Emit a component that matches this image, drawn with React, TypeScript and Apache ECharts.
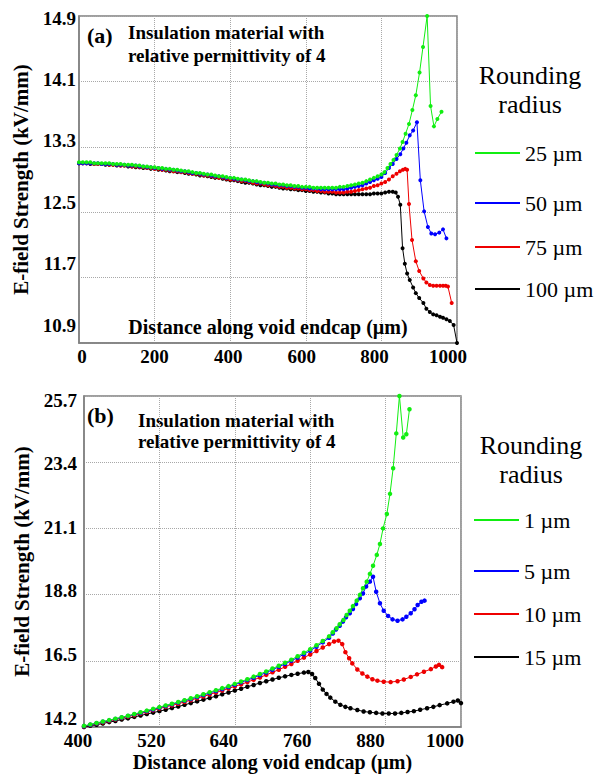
import React, { useEffect, useRef } from 'react';
import * as echarts from 'echarts';

const FONT = 'Liberation Serif';

// ---------- (a) top chart ----------
const topNames = ['25 µm', '50 µm', '75 µm', '100 µm'];
const topXTicks = [0, 200, 400, 600, 800, 1000];
const topYTicks = [10.9, 11.7, 12.5, 13.3, 14.1, 14.9];

const topBaseX = [
  0, 10, 20, 30, 40, 50, 60, 70, 80, 90,
  100, 110, 120, 130, 140, 150, 160, 170, 180, 190,
  200, 210, 220, 230, 240, 250, 260, 270, 280, 290,
  300, 310, 320, 330, 340, 350, 360, 370, 380, 390,
  400, 410, 420, 430, 440, 450, 460, 470, 480, 490,
  500, 510, 520, 530, 540, 550, 560, 570, 580, 590,
  600, 610, 620, 630, 640, 650, 660, 670, 680, 690,
  700, 710, 720, 730, 740, 750, 760, 770, 780, 790,
  800,
];

const top25Base = [
  13.11, 13.11, 13.11, 13.11, 13.10, 13.10, 13.10, 13.10, 13.10, 13.09,
  13.09, 13.09, 13.08, 13.08, 13.08, 13.07, 13.07, 13.06, 13.06, 13.05,
  13.05, 13.04, 13.04, 13.03, 13.03, 13.02, 13.02, 13.01, 13.00, 13.00,
  12.99, 12.98, 12.98, 12.97, 12.96, 12.96, 12.95, 12.94, 12.94, 12.93,
  12.92, 12.92, 12.91, 12.90, 12.90, 12.89, 12.88, 12.88, 12.87, 12.86,
  12.86, 12.85, 12.85, 12.84, 12.84, 12.83, 12.83, 12.82, 12.82, 12.81,
  12.81, 12.81, 12.80, 12.80, 12.80, 12.80, 12.80, 12.80, 12.80, 12.81,
  12.81, 12.82, 12.83, 12.84, 12.85, 12.86, 12.88, 12.90, 12.92, 12.94,
  12.96,
];
const top25TailX = [808, 816, 824, 832, 840, 849, 856, 864, 873, 882, 891, 901, 910, 921, 930, 939, 948, 959];
const top25TailY = [12.99, 13.04, 13.09, 13.14, 13.20, 13.28, 13.36, 13.46, 13.58, 13.75, 13.93, 14.21, 14.52, 14.90, 13.80, 13.55, 13.64, 13.73];

const top50Base = [
  13.10, 13.10, 13.10, 13.10, 13.10, 13.10, 13.09, 13.09, 13.09, 13.09,
  13.08, 13.08, 13.08, 13.07, 13.07, 13.07, 13.06, 13.06, 13.05, 13.05,
  13.04, 13.04, 13.03, 13.03, 13.02, 13.02, 13.01, 13.00, 13.00, 12.99,
  12.98, 12.98, 12.97, 12.96, 12.96, 12.95, 12.94, 12.94, 12.93, 12.92,
  12.92, 12.91, 12.90, 12.90, 12.89, 12.88, 12.88, 12.87, 12.86, 12.86,
  12.85, 12.84, 12.84, 12.83, 12.83, 12.82, 12.82, 12.81, 12.81, 12.80,
  12.80, 12.79, 12.79, 12.79, 12.78, 12.78, 12.78, 12.78, 12.78, 12.78,
  12.78, 12.79, 12.80, 12.81, 12.82, 12.83, 12.85, 12.87, 12.89, 12.91,
  12.93,
];
const top50TailX = [810, 820, 830, 840, 850, 858, 866, 875, 884, 894, 903, 913, 923, 932, 942, 953, 963, 972];
const top50TailY = [12.98, 13.04, 13.09, 13.15, 13.21, 13.28, 13.35, 13.44, 13.50, 13.60, 12.89, 12.51, 12.32, 12.24, 12.23, 12.25, 12.29, 12.18];

const top75Base = [
  13.10, 13.10, 13.10, 13.10, 13.09, 13.09, 13.09, 13.09, 13.08, 13.08,
  13.08, 13.07, 13.07, 13.07, 13.06, 13.06, 13.05, 13.05, 13.04, 13.04,
  13.03, 13.03, 13.02, 13.02, 13.01, 13.00, 13.00, 12.99, 12.99, 12.98,
  12.97, 12.97, 12.96, 12.95, 12.95, 12.94, 12.93, 12.92, 12.92, 12.91,
  12.90, 12.90, 12.89, 12.88, 12.88, 12.87, 12.86, 12.85, 12.85, 12.84,
  12.83, 12.83, 12.82, 12.81, 12.81, 12.80, 12.80, 12.79, 12.79, 12.78,
  12.78, 12.77, 12.77, 12.76, 12.76, 12.75, 12.75, 12.75, 12.74, 12.74,
  12.74, 12.75, 12.75, 12.76, 12.77, 12.78, 12.79, 12.80, 12.82, 12.83,
  12.85,
];
const top75TailX = [810, 820, 830, 840, 849, 857, 863, 868, 873, 881, 891, 900, 911, 919, 928, 937, 946, 955, 963, 970, 976, 986];
const top75TailY = [12.87, 12.90, 12.94, 12.97, 13.00, 13.02, 13.03, 13.02, 12.60, 12.16, 11.90, 11.78, 11.69, 11.64, 11.61, 11.60, 11.60, 11.60, 11.60, 11.60, 11.59, 11.39];

const top100Base = [
  13.10, 13.10, 13.10, 13.09, 13.09, 13.09, 13.09, 13.08, 13.08, 13.08,
  13.07, 13.07, 13.07, 13.06, 13.06, 13.05, 13.05, 13.04, 13.04, 13.03,
  13.03, 13.02, 13.02, 13.01, 13.00, 13.00, 12.99, 12.99, 12.98, 12.97,
  12.97, 12.96, 12.95, 12.95, 12.94, 12.93, 12.92, 12.92, 12.91, 12.90,
  12.89, 12.89, 12.88, 12.87, 12.86, 12.86, 12.85, 12.84, 12.83, 12.83,
  12.82, 12.81, 12.81, 12.80, 12.79, 12.79, 12.78, 12.78, 12.77, 12.77,
  12.76, 12.76, 12.75, 12.75, 12.74, 12.74, 12.73, 12.73, 12.72, 12.72,
  12.72, 12.72, 12.72, 12.72, 12.72, 12.72, 12.72, 12.72, 12.73, 12.73,
  12.73,
];
const top100TailX = [810, 820, 830, 838, 844, 850, 856, 862, 868, 875, 884, 891, 900, 911, 919, 928, 937, 946, 955, 963, 972, 981, 991, 1000];
const top100TailY = [12.74, 12.75, 12.75, 12.74, 12.69, 12.59, 12.06, 11.87, 11.75, 11.67, 11.58, 11.51, 11.45, 11.39, 11.32, 11.28, 11.25, 11.24, 11.22, 11.21, 11.19, 11.17, 11.12, 10.90];

// ---------- (b) bottom chart ----------
const botNames = ['1 µm', '5 µm', '10 µm', '15 µm'];
const botXTicks = [400, 520, 640, 760, 880, 1000];
const botYTicks = [14.2, 16.5, 18.8, 21.1, 23.4, 25.7];

const botBaseX = [
  400, 410, 420, 430, 440, 450, 460, 470, 480, 490,
  500, 510, 520, 530, 540, 550, 560, 570, 580, 590,
  600, 610, 620, 630, 640, 650, 660, 670, 680, 690,
  700, 710, 720, 730, 740, 750, 760, 770, 780, 790,
];

const bot1Base = [
  14.24, 14.29, 14.34, 14.39, 14.44, 14.49, 14.54, 14.59, 14.65, 14.71,
  14.77, 14.83, 14.89, 14.95, 15.01, 15.07, 15.13, 15.20, 15.27, 15.34,
  15.41, 15.48, 15.55, 15.62, 15.70, 15.78, 15.86, 15.95, 16.04, 16.13,
  16.23, 16.33, 16.43, 16.54, 16.66, 16.78, 16.90, 17.04, 17.19, 17.35,
];
const bot1TailX = [796, 802, 807, 813, 818, 823, 828, 834, 839, 844, 850, 855, 860, 866, 871, 876, 882, 887, 892, 897, 902, 908, 913, 918];
const bot1TailY = [17.49, 17.63, 17.77, 17.92, 18.09, 18.24, 18.40, 18.59, 18.79, 19.02, 19.25, 19.52, 19.80, 20.18, 20.56, 21.10, 21.60, 22.30, 23.19, 24.40, 25.70, 24.26, 24.37, 25.24];

const bot5Base = [
  14.23, 14.28, 14.33, 14.38, 14.43, 14.48, 14.53, 14.58, 14.64, 14.69,
  14.75, 14.81, 14.87, 14.93, 14.99, 15.05, 15.11, 15.17, 15.24, 15.31,
  15.38, 15.45, 15.52, 15.59, 15.67, 15.75, 15.83, 15.91, 16.00, 16.09,
  16.19, 16.29, 16.39, 16.50, 16.61, 16.73, 16.85, 16.99, 17.14, 17.30,
];
const bot5TailX = [796, 801, 807, 812, 817, 823, 828, 833, 839, 844, 849, 855, 860, 865, 871, 877, 884, 891, 899, 907, 913, 920, 926, 931, 937, 942];
const bot5TailY = [17.45, 17.59, 17.72, 17.86, 18.01, 18.15, 18.30, 18.47, 18.67, 18.84, 19.08, 19.25, 19.42, 18.90, 18.50, 18.24, 18.06, 17.94, 17.89, 17.94, 18.03, 18.15, 18.29, 18.44, 18.55, 18.59];

const bot10Base = [
  14.22, 14.27, 14.32, 14.36, 14.41, 14.46, 14.51, 14.56, 14.61, 14.67,
  14.72, 14.78, 14.84, 14.90, 14.95, 15.01, 15.07, 15.13, 15.20, 15.26,
  15.33, 15.40, 15.47, 15.54, 15.61, 15.68, 15.76, 15.84, 15.92, 16.01,
  16.10, 16.19, 16.29, 16.39, 16.50, 16.61, 16.72, 16.84, 16.96, 17.08,
];
const bot10TailX = [798, 805, 811, 816, 822, 827, 835, 843, 851, 859, 867, 877, 888, 899, 909, 920, 930, 941, 952, 960, 965, 970];
const bot10TailY = [17.17, 17.20, 17.08, 16.80, 16.59, 16.41, 16.20, 16.06, 15.95, 15.86, 15.81, 15.77, 15.76, 15.79, 15.85, 15.94, 16.03, 16.12, 16.21, 16.30, 16.36, 16.28];

const bot15BaseX = [
  400, 410, 420, 430, 440, 450, 460, 470, 480, 490,
  500, 510, 520, 530, 540, 550, 560, 570, 580, 590,
  600, 610, 620, 630, 640, 650, 660, 670, 680, 690,
  700, 710, 720, 730, 740, 750,
];
const bot15Base = [
  14.20, 14.24, 14.28, 14.32, 14.37, 14.41, 14.46, 14.50, 14.55, 14.60,
  14.65, 14.70, 14.75, 14.80, 14.86, 14.91, 14.97, 15.03, 15.09, 15.15,
  15.21, 15.27, 15.34, 15.40, 15.47, 15.53, 15.60, 15.66, 15.73, 15.79,
  15.85, 15.91, 15.96, 16.01, 16.05, 16.09,
];
const bot15TailX = [757, 763, 768, 774, 780, 786, 792, 800, 808, 816, 824, 835, 845, 855, 865, 875, 885, 895, 905, 915, 925, 935, 946, 956, 966, 978, 988, 995, 1000];
const bot15TailY = [16.11, 16.04, 15.90, 15.70, 15.50, 15.35, 15.22, 15.08, 14.97, 14.90, 14.85, 14.79, 14.74, 14.71, 14.69, 14.67, 14.67, 14.67, 14.69, 14.72, 14.75, 14.80, 14.85, 14.90, 14.96, 15.02, 15.08, 15.12, 15.03];

const COLORS = ['#11ee11', '#0000ff', '#ee0000', '#000000'];

function pairs(xs: number[], ys: number[]): number[][] {
  return xs.map((x, i) => [x, ys[i]]);
}

// pixel offsets of tick labels as they sit in the figure (x: +right, y: +down)
const topXLabelShift = [3, 0, -2, -4, -7, -9];
const botXLabelShift = [-6, -8, -11, -13, -15, -16];
const topYLabelShift = [-18, -14, -10, -6, -2, 2];
const botYLabelShift = [-9, -6, -4, -1, 1, 4];

const tickFont = { fontFamily: FONT, fontSize: 19, fontWeight: 'bold' as const, color: '#000' };

function shiftedLabels(ticks: number[], shifts: number[], horizontal: boolean, digits: number) {
  const rich: Record<string, any> = {};
  shifts.forEach((s, i) => {
    let padding: number[];
    if (horizontal) padding = s >= 0 ? [0, 0, 0, 2 * s] : [0, -2 * s, 0, 0];
    else padding = s >= 0 ? [2 * s, 0, 0, 0] : [0, 0, -2 * s, 0];
    rich['t' + i] = { ...tickFont, padding };
  });
  return {
    formatter: (v: number) => {
      const i = ticks.findIndex((t) => Math.abs(t - v) < 1e-6);
      const s = v.toFixed(digits);
      return i >= 0 ? `{t${i}|${s}}` : s;
    },
    rich,
  };
}

function buildOption() {
  const axisLine = { show: true, lineStyle: { color: '#808080', width: 1.5 } };
  const split = { show: true, lineStyle: { color: '#a8a8a8', type: 'dotted' as const, width: 1 } };
  const yName = 'E-field Strength (kV/mm)';
  const yNameStyle = { fontFamily: FONT, fontSize: 21, fontWeight: 'bold' as const, color: '#000' };
  const xNameStyle = { fontFamily: FONT, fontSize: 20, fontWeight: 'bold' as const, color: '#000' };

  const topSeriesData = [
    pairs(topBaseX.concat(top25TailX), top25Base.concat(top25TailY)),
    pairs(topBaseX.concat(top50TailX), top50Base.concat(top50TailY)),
    pairs(topBaseX.concat(top75TailX), top75Base.concat(top75TailY)),
    pairs(topBaseX.concat(top100TailX), top100Base.concat(top100TailY)),
  ];
  const botSeriesData = [
    pairs(botBaseX.concat(bot1TailX), bot1Base.concat(bot1TailY)),
    pairs(botBaseX.concat(bot5TailX), bot5Base.concat(bot5TailY)),
    pairs(botBaseX.concat(bot10TailX), bot10Base.concat(bot10TailY)),
    pairs(bot15BaseX.concat(bot15TailX), bot15Base.concat(bot15TailY)),
  ];

  const series: any[] = [];
  for (let k = 3; k >= 0; k--) {
    series.push({
      name: topNames[k], type: 'line', xAxisIndex: 0, yAxisIndex: 0,
      data: topSeriesData[k], symbol: 'circle', symbolSize: 4,
      lineStyle: { width: 1, color: COLORS[k] }, itemStyle: { color: COLORS[k] },
      emphasis: { disabled: true }, z: 10 - k,
    });
  }
  for (let k = 3; k >= 0; k--) {
    series.push({
      name: botNames[k], type: 'line', xAxisIndex: 1, yAxisIndex: 1,
      data: botSeriesData[k], symbol: 'circle', symbolSize: 4.5,
      lineStyle: { width: 1, color: COLORS[k] }, itemStyle: { color: COLORS[k] },
      emphasis: { disabled: true }, z: 10 - k,
    });
  }

  const topLegendY = [153, 203, 247, 289];
  const botLegendY = [520, 571, 614, 657];
  const legendText = { fontFamily: FONT, fontSize: 22, fontWeight: 'normal' as const, color: '#000' };
  const legend: any[] = [];
  topNames.forEach((n, i) => legend.push({
    data: [n], left: 475, top: topLegendY[i] - 11, icon: 'rect', itemWidth: 45, itemHeight: 2,
    padding: 0, selectedMode: false, textStyle: legendText,
  }));
  botNames.forEach((n, i) => legend.push({
    data: [n], left: 474, top: botLegendY[i] - 11, icon: 'rect', itemWidth: 45, itemHeight: 2,
    padding: 0, selectedMode: false, textStyle: legendText,
  }));

  const txt = (text: string, x: number, y: number, size: number, weight: string, align = 'left') => ({
    type: 'text', x, y, silent: true,
    style: {
      text, fontFamily: FONT, fontSize: size, fontWeight: weight, fill: '#000',
      align, verticalAlign: 'middle',
    },
  });

  const graphic = [
    txt('(a)', 87, 35, 22, 'bold'),
    txt('Insulation material with', 128, 32, 19, 'bold'),
    txt('relative permittivity of 4', 128, 55, 19, 'bold'),
    txt('(b)', 87, 415, 22, 'bold'),
    txt('Insulation material with', 138, 420, 19, 'bold'),
    txt('relative permittivity of 4', 138, 441, 19, 'bold'),
    txt('Rounding', 530, 75, 26, 'normal', 'center'),
    txt('radius', 530, 104, 26, 'normal', 'center'),
    txt('Rounding', 531, 445, 26, 'normal', 'center'),
    txt('radius', 531, 474, 26, 'normal', 'center'),
  ];

  return {
    animation: false,
    backgroundColor: '#ffffff',
    grid: [
      { left: 79, top: 16, width: 378, height: 327, show: true, borderColor: '#808080', borderWidth: 1.5 },
      { left: 84, top: 396, width: 377, height: 331, show: true, borderColor: '#808080', borderWidth: 1.5 },
    ],
    xAxis: [
      {
        gridIndex: 0, type: 'value', min: topXTicks[0], max: topXTicks[topXTicks.length - 1], interval: 200,
        axisLine, axisTick: { show: false }, splitLine: split,
        axisLabel: { ...tickFont, margin: 4, ...shiftedLabels(topXTicks, topXLabelShift, true, 0) },
        name: 'Distance along void endcap (µm)', nameLocation: 'middle', nameGap: -26, nameTextStyle: xNameStyle,
      },
      {
        gridIndex: 1, type: 'value', min: botXTicks[0], max: botXTicks[botXTicks.length - 1], interval: 120,
        axisLine, axisTick: { show: false }, splitLine: split,
        axisLabel: { ...tickFont, margin: 4, ...shiftedLabels(botXTicks, botXLabelShift, true, 0) },
        name: 'Distance along void endcap (µm)', nameLocation: 'middle', nameGap: 25, nameTextStyle: xNameStyle,
      },
    ],
    yAxis: [
      {
        gridIndex: 0, type: 'value', min: topYTicks[0], max: topYTicks[topYTicks.length - 1], interval: 0.8,
        axisLine, axisTick: { show: false }, splitLine: split,
        axisLabel: { ...tickFont, margin: 3, ...shiftedLabels(topYTicks, topYLabelShift, false, 1) },
        name: yName, nameLocation: 'middle', nameGap: 47, nameTextStyle: yNameStyle,
      },
      {
        gridIndex: 1, type: 'value', min: botYTicks[0], max: botYTicks[botYTicks.length - 1], interval: 2.3,
        axisLine, axisTick: { show: false }, splitLine: split,
        axisLabel: { ...tickFont, margin: 7, ...shiftedLabels(botYTicks, botYLabelShift, false, 1) },
        name: yName, nameLocation: 'middle', nameGap: 52, nameTextStyle: yNameStyle,
      },
    ],
    legend,
    graphic,
    series,
  };
}

export default function App() {
  const ref = useRef<HTMLDivElement>(null);
  useEffect(() => {
    document.body.style.margin = '0';
    const chart = echarts.init(ref.current as HTMLDivElement, null, { renderer: 'svg' });
    chart.setOption(buildOption() as any);
    return () => chart.dispose();
  }, []);
  return <div ref={ref} style={{ width: 607, height: 777 }} />;
}
